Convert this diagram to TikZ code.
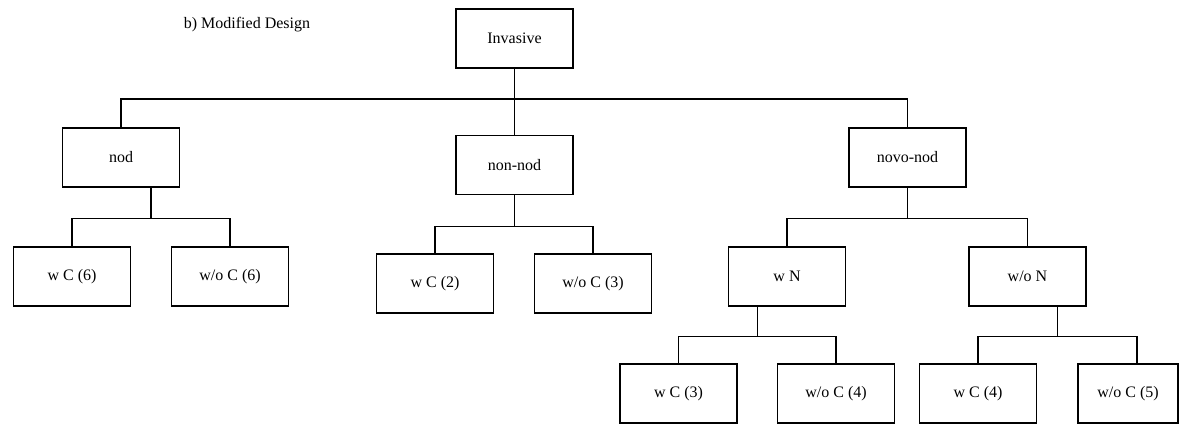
\documentclass[tikz,border=0pt]{standalone}
\usepackage{fontspec}
\setmainfont{Liberation Serif}
\usepackage{tikz}
\usetikzlibrary{calc}

\begin{document}
\begin{tikzpicture}[x=0.75pt,y=-0.75pt,
	box/.style={draw,line width=1pt,minimum width=87.75pt,minimum height=44.25pt,inner sep=0pt,font=\fontsize{12}{14}\selectfont},
	lbl/.style={inner sep=0pt,font=\fontsize{12}{14}\selectfont},
	wire/.style={line width=1pt}]
		\useasboundingbox (0,0) rectangle (1180,424);
		\node[lbl] (title) at (247,25) {b) Modified Design};
		\node[box] (inv) at (514.5,38.5) {Invasive};
		\node[box] (nod) at (121,157.5) {nod};
		\node[box] (nonnod) at (514.5,165) {non-nod};
		\node[box] (novo) at (907.5,157.5) {novo-nod};
		\node[box] (wc6) at (72,276.5) {w C (6)};
		\node[box] (woc6) at (230,276.5) {w/o C (6)};
		\node[box] (wc2) at (435,283.5) {w C (2)};
		\node[box] (woc3) at (593,283.5) {w/o C (3)};
		\node[box] (wn) at (787,276.5) {w N};
		\node[box] (won) at (1027.5,276.5) {w/o N};
		\node[box] (wc3) at (678.5,393.5) {w C (3)};
		\node[box] (woc4) at (836,393.5) {w/o C (4)};
		\node[box] (wc4) at (978,393.5) {w C (4)};
		\node[box,minimum width=75pt] (woc5) at (1128,393.5) {w/o C (5)};
		\draw[wire] (inv) -- (nonnod);
		\draw[wire] (inv.south) -- ++(0,30.5) -| (nod.north) (inv.south) -- ++(0,30.5) -| (novo.north);
		\draw[wire] ($(nod.south)+(30,0)$) -- ++(0,31) -| (wc6.north) ($(nod.south)+(30,0)$) -- ++(0,31) -| (woc6.north);
		\draw[wire] (nonnod.south) -- ++(0,31) -| (wc2.north) (nonnod.south) -- ++(0,31) -| (woc3.north);
		\draw[wire] (novo.south) -- ++(0,31) -| (wn.north) (novo.south) -- ++(0,31) -| (won.north);
		\draw[wire] ($(wn.south)+(-29.5,0)$) -- ++(0,30) -| (wc3.north) ($(wn.south)+(-29.5,0)$) -- ++(0,30) -| (woc4.north);
		\draw[wire] ($(won.south)+(30,0)$) -- ++(0,30) -| (wc4.north) ($(won.south)+(30,0)$) -- ++(0,30) -| ($(woc5.north)+(9,0)$);
\end{tikzpicture}
\end{document}
